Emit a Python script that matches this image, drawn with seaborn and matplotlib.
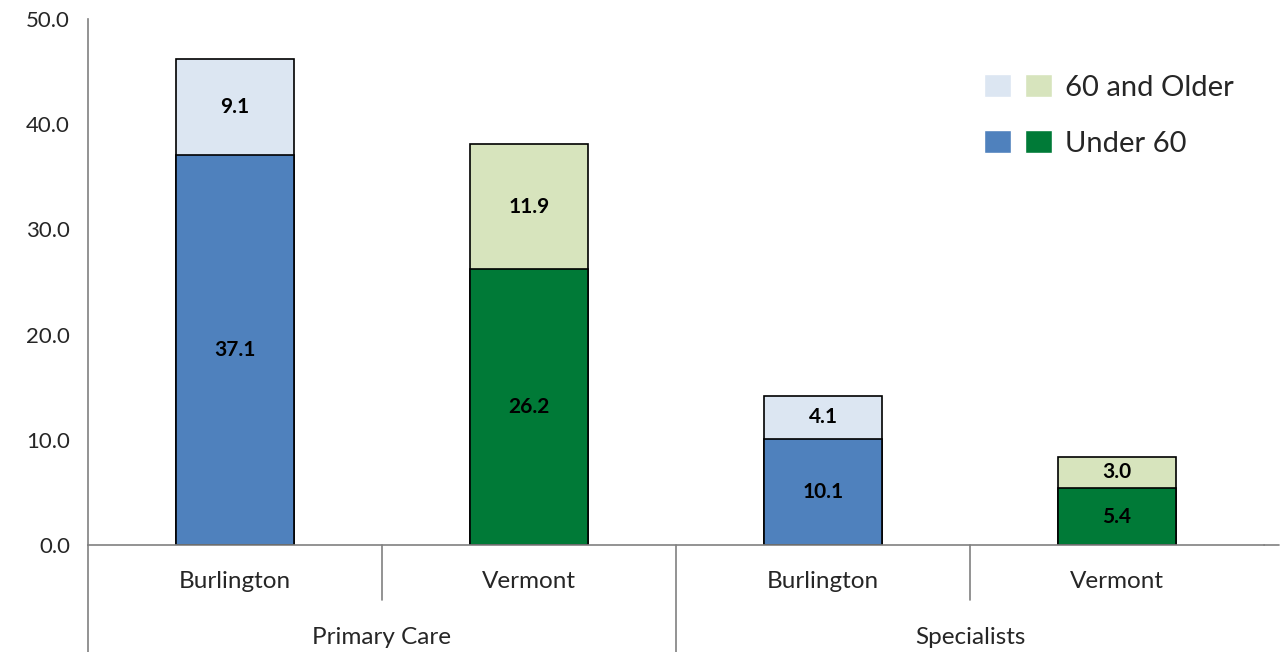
import seaborn as sns
import matplotlib.pyplot as plt
import pandas as pd
from matplotlib.patches import Patch
from matplotlib.legend_handler import HandlerTuple

places = ["Burlington", "Vermont", "Burlington", "Vermont"]
groups = ["Primary Care", "Specialists"]
under60 = [37.1, 26.2, 10.1, 5.4]
older60 = [9.1, 11.9, 4.1, 3.0]
dark_colors = ["#4F81BD", "#007A37", "#4F81BD", "#007A37"]
light_colors = ["#DCE6F2", "#D7E4BD", "#DCE6F2", "#D7E4BD"]

sns.set_style("white")
plt.rcParams["font.family"] = ["Lato", "DejaVu Sans"]

df = pd.DataFrame({"pos": [0, 1, 2, 3], "under": under60, "older": older60})
df["total"] = df["under"] + df["older"]

fig = plt.figure(figsize=(12.82, 6.52), dpi=100)
ax = fig.add_axes([88 / 1282, 107 / 652, (1264 - 88) / 1282, 526 / 652])

sns.barplot(data=df, x="pos", y="total", hue="pos", palette=light_colors,
            saturation=1, width=0.4, edgecolor="black", linewidth=1.2,
            legend=False, ax=ax)
sns.barplot(data=df, x="pos", y="under", hue="pos", palette=dark_colors,
            saturation=1, width=0.4, edgecolor="black", linewidth=1.2,
            legend=False, ax=ax)

for i in range(4):
    ax.text(i, under60[i] / 2, f"{under60[i]:.1f}", ha="center", va="center",
            fontsize=15, fontweight="bold", color="black")
    ax.text(i, under60[i] + older60[i] / 2, f"{older60[i]:.1f}", ha="center",
            va="center", fontsize=15, fontweight="bold", color="black")

ax.set_xlim(-0.5, 3.5)
ax.set_ylim(0, 50)
ax.set_yticks([0, 10, 20, 30, 40, 50])
ax.set_yticklabels([f"{v:.1f}" for v in [0, 10, 20, 30, 40, 50]], fontsize=16)
ax.tick_params(axis="y", length=6, color="#808080", direction="out", pad=7)
ax.set_xticks([])
ax.set_xlabel("")
ax.set_ylabel("")
for s in ["top", "right"]:
    ax.spines[s].set_visible(False)
ax.spines["left"].set_color("#808080")
ax.spines["bottom"].set_color("#808080")
ax.spines["left"].set_linewidth(1.2)
ax.spines["bottom"].set_linewidth(1.2)

# two-level category axis below plot
trans = ax.get_xaxis_transform()
for i, p in enumerate(places):
    ax.text(i, -0.07, p, transform=trans, ha="center", va="center", fontsize=17.5)
for j, g in enumerate(groups):
    ax.text(0.5 + 2 * j, -0.175, g, transform=trans, ha="center", va="center", fontsize=17.5)
for xv, ybot in [(-0.5, -0.21), (0.5, -0.105), (1.5, -0.21), (2.5, -0.105)]:
    ax.plot([xv, xv], [0, ybot], transform=trans, color="#808080", lw=1.2, clip_on=False)
ax.plot([3.5, 3.55], [0, 0], transform=trans, color="#808080", lw=1.2, clip_on=False)

handles = [
    (Patch(facecolor=light_colors[0]), Patch(facecolor=light_colors[1])),
    (Patch(facecolor=dark_colors[0]), Patch(facecolor=dark_colors[1])),
]
ax.legend(handles, ["60 and Older", "Under 60"],
          handler_map={tuple: HandlerTuple(ndivide=None, pad=0.5)},
          loc="upper left", bbox_to_anchor=(0.74, 0.945), frameon=False,
          fontsize=21, handlelength=2.3, handleheight=0.85, labelspacing=1.0,
          handletextpad=0.45)

fig.savefig("out.png", dpi=100)
